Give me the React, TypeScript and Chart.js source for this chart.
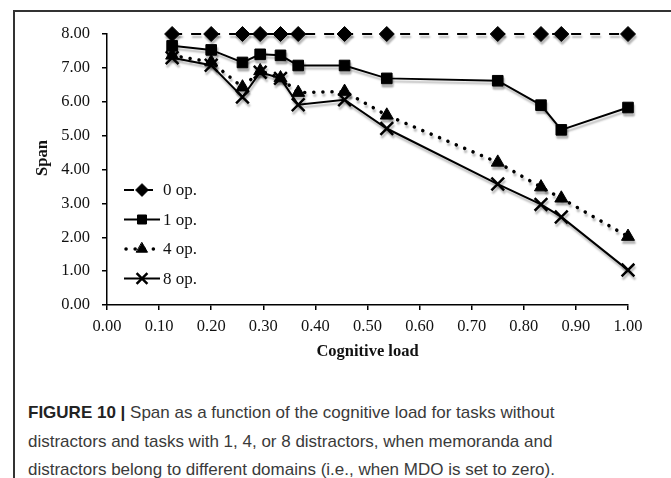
import React, { useEffect, useRef } from 'react';
import { Chart, registerables } from 'chart.js';
import { drawPoint } from 'chart.js/helpers';

Chart.register(...registerables);

const cognitiveLoad = [0.125, 0.2, 0.26, 0.294, 0.333, 0.367, 0.456, 0.537, 0.75, 0.833, 0.872, 1.0];
const span0op = [8, 8, 8, 8, 8, 8, 8, 8, 8, 8, 8, 8];
const span1op = [7.65, 7.53, 7.16, 7.4, 7.37, 7.07, 7.07, 6.69, 6.62, 5.9, 5.17, 5.83];
const span4op = [7.37, 7.17, 6.43, 6.91, 6.7, 6.27, 6.3, 5.6, 4.21, 3.48, 3.15, 2.02];
const span8op = [7.3, 7.08, 6.14, 6.87, 6.69, 5.91, 6.06, 5.21, 3.57, 2.97, 2.6, 1.03];
const seriesLabels = ['0 op.', '1 op.', '4 op.', '8 op.'];
const xTitle = 'Cognitive load';
const yTitle = 'Span';

const SERIF = '"Liberation Serif", "Times New Roman", serif';

const pts = (ys: number[]) => cognitiveLoad.map((x, i) => ({ x, y: ys[i] }));

const legendPlugin = {
  id: 'customLegend',
  afterDraw(chart: any) {
    const ctx = chart.ctx;
    chart.data.datasets.forEach((ds: any, i: number) => {
      const y = 190 + i * 29.5;
      ctx.save();
      ctx.strokeStyle = '#000';
      ctx.lineWidth = ds.borderWidth;
      ctx.setLineDash(ds.borderDash || []);
      ctx.lineCap = ds.borderCapStyle || 'butt';
      ctx.beginPath();
      if (i === 0) {
        ctx.moveTo(124, y);
        ctx.lineTo(154, y);
      } else if (i === 2) {
        ctx.moveTo(126, y);
        ctx.lineTo(160, y);
      } else {
        ctx.moveTo(124, y);
        ctx.lineTo(160, y);
      }
      ctx.stroke();
      ctx.setLineDash([]);
      ctx.fillStyle = '#000';
      ctx.strokeStyle = '#000';
      ctx.lineWidth = ds.pointBorderWidth;
      drawPoint(ctx, { pointStyle: ds.pointStyle, radius: ds.pointRadius * 0.85, rotation: 0, borderWidth: ds.pointBorderWidth }, 142, y);
      ctx.fillStyle = '#111';
      ctx.font = `17px ${SERIF}`;
      ctx.textBaseline = 'middle';
      ctx.textAlign = 'left';
      ctx.fillText(ds.label, 163, y + 1);
      ctx.restore();
    });
    // y axis title
    ctx.save();
    ctx.translate(43, 158);
    ctx.rotate(-Math.PI / 2);
    ctx.font = `bold 16.5px ${SERIF}`;
    ctx.fillStyle = '#111';
    ctx.textAlign = 'center';
    ctx.textBaseline = 'middle';
    ctx.fillText(yTitle, 0, 0);
    ctx.restore();
  },
};

const shadowPlugin = {
  id: 'markerShadow',
  beforeDatasetsDraw(chart: any) {
    const ctx = chart.ctx;
    ctx.save();
    ctx.shadowColor = 'rgba(0,0,0,0.28)';
    ctx.shadowOffsetX = 1;
    ctx.shadowOffsetY = 3;
    ctx.shadowBlur = 2;
  },
  afterDatasetsDraw(chart: any) {
    chart.ctx.restore();
  },
};

export default function App() {
  const ref = useRef<HTMLCanvasElement>(null);
  useEffect(() => {
    const common = { borderColor: '#000', backgroundColor: '#000', pointBackgroundColor: '#000', pointBorderColor: '#000', showLine: true, tension: 0, clip: false as any };
    const chart = new Chart(ref.current!, {
      type: 'scatter',
      data: {
        datasets: [
          { ...common, label: seriesLabels[0], data: pts(span0op), borderWidth: 2, borderDash: [10, 9], pointStyle: 'rectRot', pointRadius: 7.5, pointBorderWidth: 1 },
          { ...common, label: seriesLabels[1], data: pts(span1op), borderWidth: 2, pointStyle: 'rect', pointRadius: 7.5, pointBorderWidth: 1 },
          { ...common, label: seriesLabels[2], data: pts(span4op), borderWidth: 3.5, borderDash: [0.1, 9], borderCapStyle: 'round', pointStyle: 'triangle', pointRadius: 7.5, pointBorderWidth: 1 },
          { ...common, label: seriesLabels[3], data: pts(span8op), borderWidth: 2, pointStyle: 'crossRot', pointRadius: 9, pointBorderWidth: 2.5 },
        ] as any,
      },
      options: {
        animation: false,
        responsive: false,
        maintainAspectRatio: false,
        layout: { padding: { left: 0, right: 43, top: 34, bottom: 0 } },
        plugins: { legend: { display: false }, tooltip: { enabled: false } },
        scales: {
          x: {
            type: 'linear',
            min: 0,
            max: 1,
            ticks: { stepSize: 0.1, padding: 7, color: '#111', font: { family: SERIF, size: 16.5 }, callback: (v: any) => Number(v).toFixed(2), maxRotation: 0, autoSkip: false },
            grid: { display: true, drawOnChartArea: false, drawTicks: true, tickLength: 5, color: '#000', lineWidth: 1.5 },
            border: { display: true, color: '#000', width: 1.5 },
            title: { display: true, text: xTitle, color: '#111', font: { family: SERIF, size: 16.5, weight: 'bold' }, padding: { top: 4, bottom: 8 } },
            afterFit: (s: any) => { s.height = 65; },
          },
          y: {
            type: 'linear',
            min: 0,
            max: 8,
            ticks: { stepSize: 1, padding: 12, color: '#111', font: { family: SERIF, size: 16.5 }, callback: (v: any) => Number(v).toFixed(2) },
            grid: { display: true, drawOnChartArea: false, drawTicks: true, tickLength: 5, color: '#000', lineWidth: 1.5 },
            border: { display: true, color: '#000', width: 1.5 },
            afterFit: (s: any) => { s.width = 107; },
          },
        },
      } as any,
      plugins: [shadowPlugin, legendPlugin],
    });
    return () => chart.destroy();
  }, []);

  return (
    <div style={{ position: 'fixed', left: 0, top: 0, width: 671, height: 478, background: '#fff', overflow: 'hidden' }}>
      <div style={{ position: 'absolute', left: 13, top: 10, width: 700, height: 500, borderLeft: '2px solid #333', borderTop: '2px solid #333' }} />
      <canvas ref={ref} width={671} height={370} style={{ position: 'absolute', left: 0, top: 0 }} />
      <div style={{ position: 'absolute', left: 28, top: 399, fontFamily: '"Liberation Sans", Arial, sans-serif', fontSize: 17, lineHeight: '28.5px', color: '#3a3a3a', whiteSpace: 'nowrap' }}>
        <b style={{ color: '#222' }}>FIGURE 10 |</b> Span as a function of the cognitive load for tasks without<br />
        distractors and tasks with 1, 4, or 8 distractors, when memoranda and<br />
        distractors belong to different domains (i.e., when MDO is set to zero).
      </div>
    </div>
  );
}
